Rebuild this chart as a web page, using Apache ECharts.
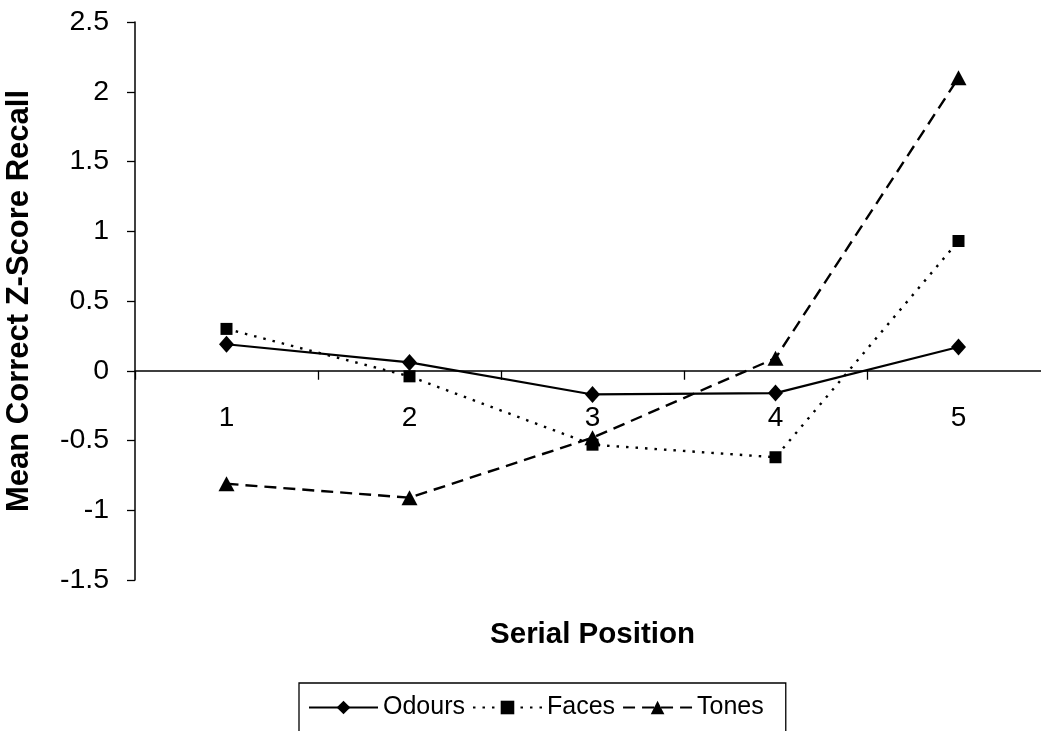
<!DOCTYPE html>
<html>
<head>
<meta charset="utf-8">
<script src="https://cdn.jsdelivr.net/npm/echarts@6/dist/echarts.min.js"></script>
<style>
html,body{margin:0;padding:0;background:#fff;}
#chart{width:1041px;height:731px;}
</style>
</head>
<body>
<div id="chart"></div>
<script>
const categories = ['1', '2', '3', '4', '5'];
const odours = [0.19, 0.06, -0.17, -0.16, 0.17];
const faces = [0.30, -0.04, -0.53, -0.62, 0.93];
const tones = [-0.81, -0.91, -0.48, 0.09, 2.10];
const seriesNames = ['Odours', 'Faces', 'Tones'];
const xTitle = 'Serial Position';
const yTitle = 'Mean Correct Z-Score Recall';

const FONT = '"Liberation Sans", Arial, sans-serif';
const chart = echarts.init(document.getElementById('chart'), null, {renderer: 'canvas'});
chart.setOption({
  animation: false,
  backgroundColor: '#fff',
  grid: {left: 135, right: -9, top: 22, bottom: 151, containLabel: false, outerBoundsMode: 'none'},
  legend: {
    data: seriesNames,
    left: 299, top: 683,
    padding: [12, 22, 13, 9],
    itemWidth: 69, itemHeight: 17, itemGap: 7,
    borderColor: '#000', borderWidth: 1.3, borderRadius: 0,
    textStyle: {fontFamily: FONT, fontSize: 25, color: '#000'}
  },
  xAxis: {
    type: 'category',
    data: categories,
    boundaryGap: true,
    name: xTitle,
    nameLocation: 'middle',
    nameGap: 40,
    nameTextStyle: {fontFamily: FONT, fontSize: 29.5, fontWeight: 'bold', color: '#000'},
    axisLine: {onZero: true, lineStyle: {color: '#000', width: 1.5}},
    axisTick: {show: true, inside: false, length: 9, lineStyle: {color: '#000', width: 1.3}},
    axisLabel: {fontFamily: FONT, fontSize: 28, color: '#000', inside: true, margin: 148},
    splitLine: {show: false}
  },
  yAxis: {
    type: 'value',
    min: -1.5, max: 2.5, interval: 0.5,
    name: yTitle,
    nameLocation: 'middle',
    nameGap: 100,
    nameTextStyle: {fontFamily: FONT, fontSize: 31, fontWeight: 'bold', color: '#000'},
    axisLine: {show: true, onZero: false, lineStyle: {color: '#000', width: 1.5}},
    axisTick: {show: true, inside: false, length: 8, lineStyle: {color: '#000', width: 1.3}},
    axisLabel: {fontFamily: FONT, fontSize: 28.5, color: '#000', margin: 26},
    splitLine: {show: false}
  },
  series: [
    {
      name: seriesNames[0], type: 'line', data: odours,
      symbol: 'diamond', symbolSize: [15, 17],
      lineStyle: {color: '#000', width: 2.2, type: 'solid'},
      itemStyle: {color: '#000'}
    },
    {
      name: seriesNames[1], type: 'line', data: faces,
      symbol: 'rect', symbolSize: 12,
      lineStyle: {color: '#000', width: 2.4, type: [2.5, 7]},
      itemStyle: {color: '#000'}
    },
    {
      name: seriesNames[2], type: 'line', data: tones,
      symbol: 'triangle', symbolSize: [16, 15],
      lineStyle: {color: '#000', width: 2.4, type: [12, 7]},
      itemStyle: {color: '#000'}
    }
  ]
});
</script>
</body>
</html>
